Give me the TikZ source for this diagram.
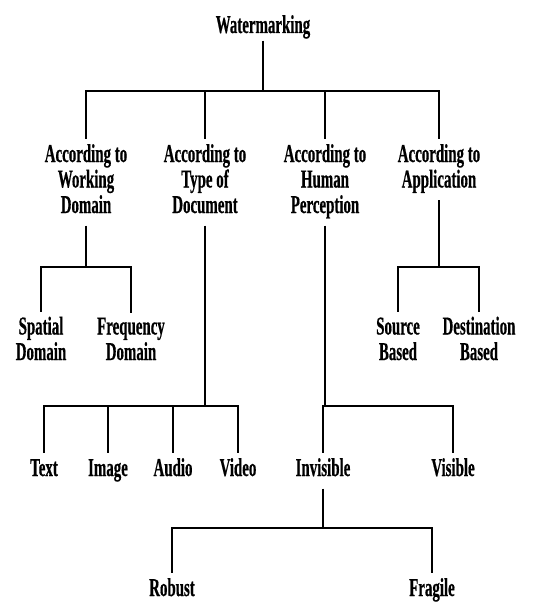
\documentclass[tikz,border=0pt]{standalone}
\usepackage{fontspec}
\newfontfamily\wmfont{Liberation Serif}[UprightFont={* Bold}, FakeStretch=0.58, FakeBold=0.5]
\usepackage{tikz}

\begin{document}
\begin{tikzpicture}[x=1pt, y=-1pt]
\useasboundingbox (0,0) rectangle (549,602);
\begin{scope}[every node/.style={anchor=base, align=center, inner sep=0pt, outer sep=5pt, font=\wmfont\fontsize{25.7}{25.5}\selectfont, execute at begin node=\strut, execute at end node=\strut}]
    \node[outer sep=0pt] (root) at (263,33) {Watermarking};
    \node (wd) at (86,213) {According to\\Working\\Domain};
    \node (td) at (205,213) {According to\\Type of\\Document};
    \node (hp) at (325,213) {According to\\Human\\Perception};
    \node (ap) at (439,187.5) {According to\\Application};
    \node (sd) at (41,360) {Spatial\\Domain};
    \node (fd) at (131,360) {Frequency\\Domain};
    \node (sb) at (398,360) {Source\\Based};
    \node (db) at (479,360) {Destination\\Based};
    \node (tx) at (44,476) {Text};
    \node (im) at (108,476) {Image};
    \node (au) at (173,476) {Audio};
    \node (vi) at (238,476) {Video};
    \node (inv) at (323,476) {Invisible};
    \node (vis) at (453,476) {Visible};
    \node (rb) at (172,596) {Robust};
    \node (fr) at (432,596) {Fragile};
\end{scope}
\begin{scope}[line width=1.6pt]
    % junctions of the bars
    \coordinate (j0) at (263,91);
    \coordinate (j1) at (86,267);
    \coordinate (j2) at (205,406);
    \coordinate (j3) at (325,406);
    \coordinate (j4) at (439,267);
    \coordinate (j5) at (323,528);
    \draw (root) -- (j0);
    \draw (j0) -| (wd);
    \draw (j0) -| (td);
    \draw (j0) -| (hp);
    \draw (j0) -| (ap);
    \draw (wd) -- (j1);
    \draw (j1) -| (sd);
    \draw (j1) -| (fd);
    \draw (td) -- (j2);
    \draw (j2) -| (tx);
    \draw (j2) -| (im);
    \draw (j2) -| (au);
    \draw (j2) -| (vi);
    \draw (hp) -- (j3);
    \draw (j3) -| (inv);
    \draw (j3) -| (vis);
    \draw (ap) -- (j4);
    \draw (j4) -| (sb);
    \draw (j4) -| (db);
    \draw (inv) -- (j5);
    \draw (j5) -| (rb);
    \draw (j5) -| (fr);
\end{scope}
\end{tikzpicture}
\end{document}
